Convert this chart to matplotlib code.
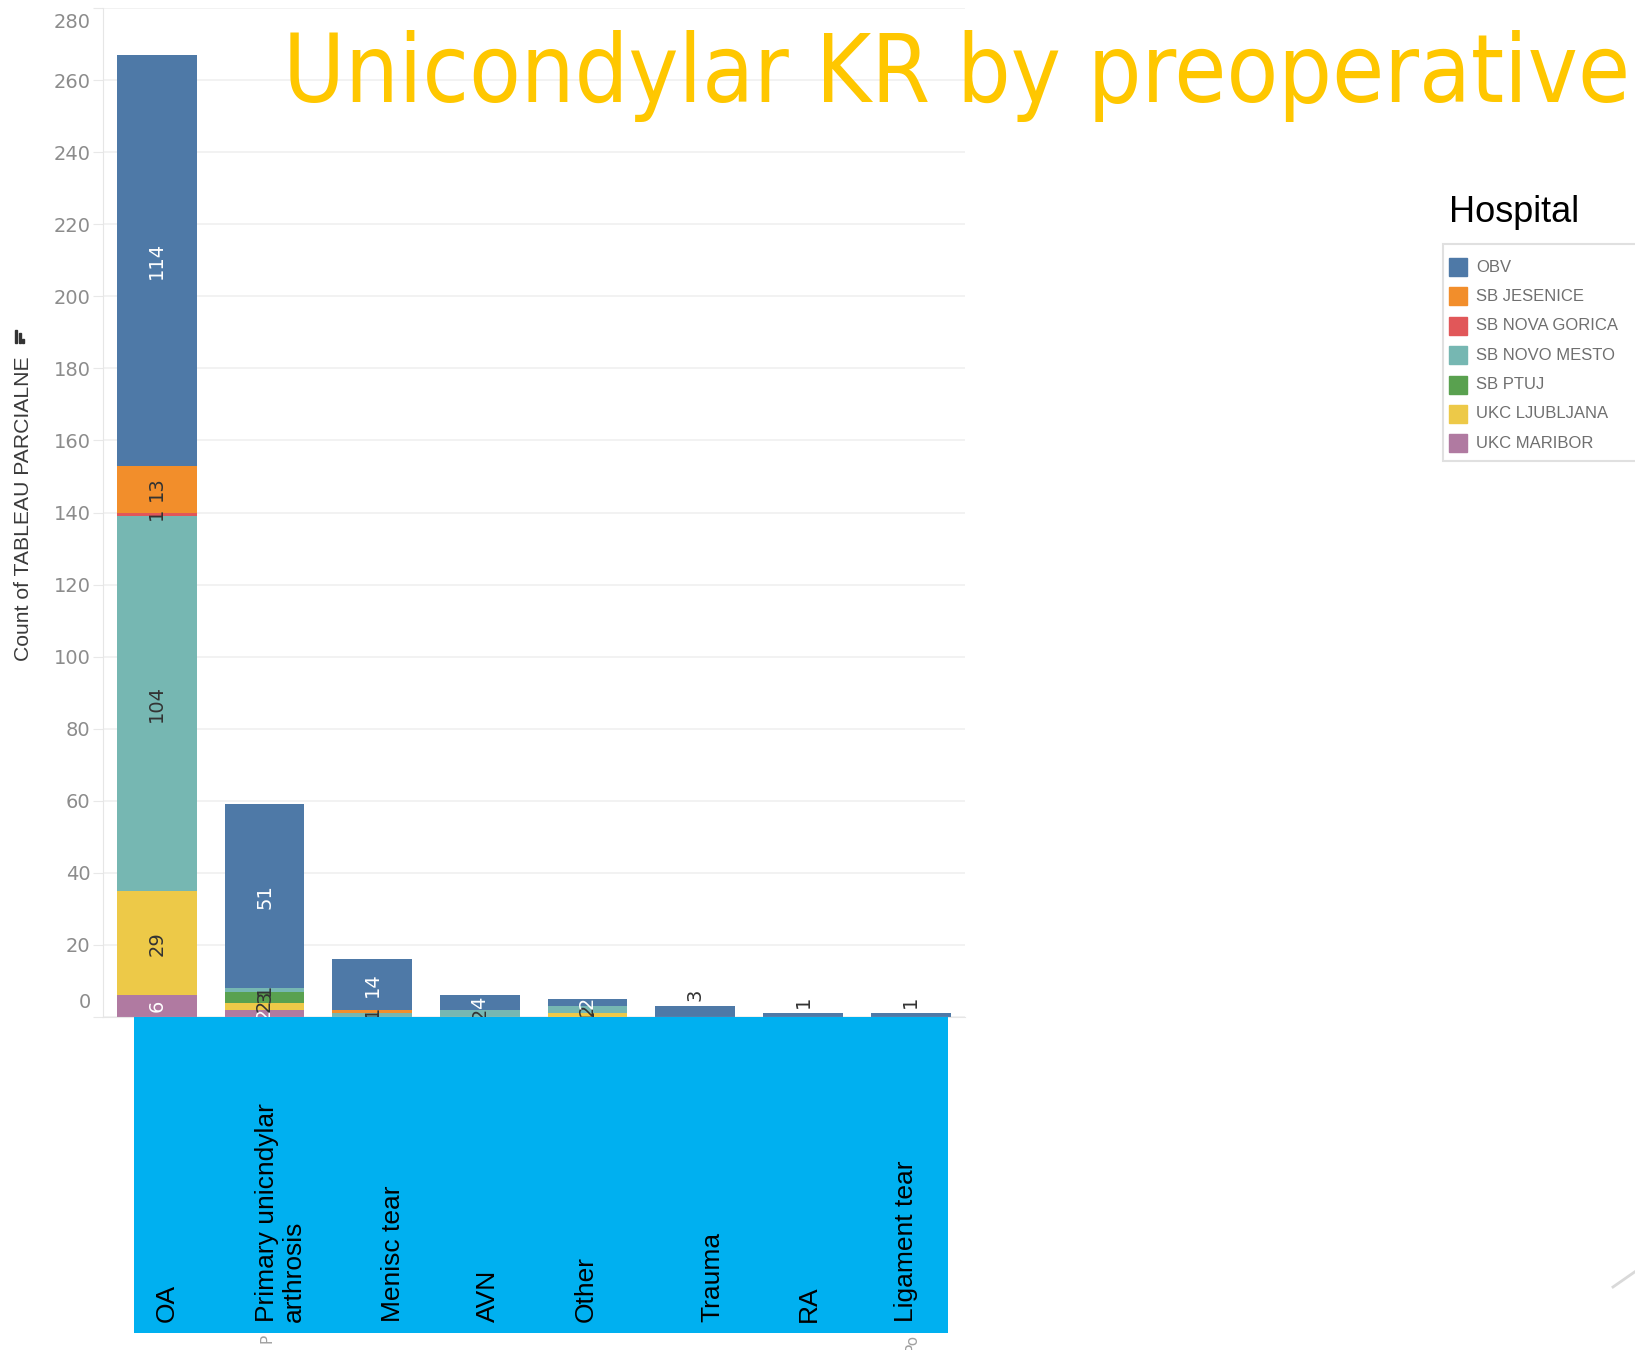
import matplotlib
matplotlib.use("Agg")
import matplotlib.pyplot as plt
from matplotlib.patches import Rectangle
from matplotlib.lines import Line2D
import matplotlib.transforms as mtransforms
from matplotlib import font_manager as fm
import numpy as np

# ---------------- data ----------------
categories = ["OA", "Primary unicondylar arthrosis", "Menisc tear", "AVN",
              "Other", "Trauma", "RA", "Ligament tear"]
category_labels = ["OA", "Primary unicndylar\narthrosis", "Menisc tear", "AVN",
                   "Other", "Trauma", "RA", "Ligament tear"]
hospitals = ["OBV", "SB JESENICE", "SB NOVA GORICA", "SB NOVO MESTO",
             "SB PTUJ", "UKC LJUBLJANA", "UKC MARIBOR"]
obv            = [114, 51, 14, 4, 2, 3, 1, 1]
sb_jesenice    = [13, 0, 1, 0, 0, 0, 0, 0]
sb_nova_gorica = [1, 0, 0, 0, 0, 0, 0, 0]
sb_novo_mesto  = [104, 1, 1, 2, 2, 0, 0, 0]
sb_ptuj        = [0, 3, 0, 0, 0, 0, 0, 0]
ukc_ljubljana  = [29, 2, 0, 0, 1, 0, 0, 0]
ukc_maribor    = [6, 2, 0, 0, 0, 0, 0, 0]
y_ticks = list(range(0, 281, 20))

series = {"OBV": obv, "SB JESENICE": sb_jesenice, "SB NOVA GORICA": sb_nova_gorica,
          "SB NOVO MESTO": sb_novo_mesto, "SB PTUJ": sb_ptuj,
          "UKC LJUBLJANA": ukc_ljubljana, "UKC MARIBOR": ukc_maribor}

# ---------------- style ----------------
colors = {"OBV": "#4e79a7", "SB JESENICE": "#f28e2b", "SB NOVA GORICA": "#e15759",
          "SB NOVO MESTO": "#76b7b2", "SB PTUJ": "#59a14f",
          "UKC LJUBLJANA": "#edc948", "UKC MARIBOR": "#b07aa1"}
label_colors = {"OBV": "white", "UKC MARIBOR": "white"}
stack_order = hospitals[::-1]
label_x_offsets = [0.088, 0.15, 0.193, 0.077, -0.02, 0.163, 0.057, -0.04]


def has_family(name):
    try:
        fm.findfont(fm.FontProperties(family=name), fallback_to_default=False)
        return True
    except Exception:
        return False


NARROW_OK = has_family("Liberation Sans Narrow")
NARROW = "Liberation Sans Narrow" if NARROW_OK else "Liberation Sans"
ARIAL = "Liberation Sans"

W, H = 1635, 1350
fig = plt.figure(figsize=(W / 100, H / 100), dpi=100)
fig.patch.set_facecolor("white")


def fx(x):
    return x / W


def fy(y):
    return 1 - y / H


ax = fig.add_axes([fx(103), fy(1017), fx(964.5) - fx(103), fy(8) - fy(1017)])
ax.set_xlim(-0.5, 7.5)
ax.set_ylim(0, 280)

x = np.arange(len(categories))
bottom = np.zeros(len(categories))
nonzero = [sum(1 for h in hospitals if series[h][i] > 0) for i in range(len(categories))]
for h in stack_order:
    vals = np.array(series[h], dtype=float)
    ax.bar(x, vals, bottom=bottom, width=0.74, color=colors[h], zorder=2,
           linewidth=0)
    for i, v in enumerate(vals):
        if v <= 0:
            continue
        if nonzero[i] == 1 and v < 4:
            ax.annotate(str(int(v)), (i, bottom[i] + v), xytext=(0, 4),
                        textcoords="offset points", rotation=90, ha="center",
                        va="bottom", fontsize=14, color="#333333", zorder=3)
        else:
            ax.text(i, bottom[i] + v / 2, str(int(v)), rotation=90, ha="center",
                    va="center", fontsize=14,
                    color=label_colors.get(h, "#333333"), zorder=3)
    bottom += vals

# axes styling
for s in ["top", "right"]:
    ax.spines[s].set_visible(False)
ax.spines["left"].set_color("#e6e6e6")
ax.spines["bottom"].set_color("#e6e6e6")
ax.set_yticks(y_ticks)
ax.set_yticklabels([str(t) for t in y_ticks])
ax.tick_params(axis="y", length=7, color="#e8e8e8", labelcolor="#8c8c8c",
               labelsize=14, pad=2)
ax.set_xticks(x)
ax.set_xticklabels([])
ax.tick_params(axis="x", length=0)
ax.yaxis.grid(True, color="#f0f0f0", linewidth=1.2, zorder=0)
ax.set_axisbelow(True)

# shift the first / last tick labels inward like the reference
labs = ax.get_yticklabels()
labs[0].set_transform(labs[0].get_transform() +
                      mtransforms.ScaledTranslation(0, 17 / 100, fig.dpi_scale_trans))
labs[-1].set_transform(labs[-1].get_transform() +
                       mtransforms.ScaledTranslation(0, -12 / 100, fig.dpi_scale_trans))

ax.set_ylabel("Count of TABLEAU PARCIALNE", family=[NARROW, "DejaVu Sans"],
              fontsize=17.5 if NARROW_OK else 15.2, color="#3a3a3a")
ax.yaxis.set_label_coords((33 - 103) / 861.5, (1017 - 509) / 1009)

# sort icon next to the axis title
for (x0, h0) in [(15, 13), (19, 10), (22, 4)]:
    fig.patches.append(Rectangle((fx(x0), fy(343)), 2.4 / W, h0 / H,
                                 transform=fig.transFigure, color="#333333",
                                 zorder=3))

# blue box with category labels
fig.patches.append(Rectangle((fx(133.5), fy(1332.6)), (948 - 133.5) / W,
                             (1332.6 - 1016.6) / H, transform=fig.transFigure,
                             facecolor="#00B0F0", edgecolor="none", zorder=5))
blend = mtransforms.blended_transform_factory(ax.transData, fig.transFigure)
for i, lab in enumerate(category_labels):
    fig.text(i + label_x_offsets[i], fy(1322), lab, transform=blend, rotation=90,
             ha="center", va="bottom", multialignment="left", fontsize=19,
             family=ARIAL, color="black", zorder=6, linespacing=1.15)

# peeking gray text under the box
fig.text(fx(267), fy(1334), "P", rotation=90, ha="center", va="top",
         fontsize=11, color="#a0a0a0")
fig.text(fx(912), fy(1334), "Po", rotation=90, ha="center", va="top",
         fontsize=11, color="#a0a0a0")

# title
title_font = "DejaVu Sans"
stretch = "normal"
try:
    p = fm.findfont(fm.FontProperties(family="DejaVu Sans", stretch="condensed"))
    if "Condensed" in p:
        stretch = "condensed"
except Exception:
    pass
title = fig.text(fx(283), fy(102), "Unicondylar KR by preoperative", fontsize=64,
                 color="#FFC700", ha="left", va="baseline", family=title_font,
                 fontstretch=stretch, zorder=6)
fig.canvas.draw()
w = title.get_window_extent(renderer=fig.canvas.get_renderer()).width
title.set_fontsize(64 * 1348 / w)

# legend
fig.text(fx(1449), fy(213), "Hospital", fontsize=26, family=ARIAL, color="black",
         ha="left", va="center")
fig.patches.append(Rectangle((fx(1443), fy(461)), (1700 - 1443) / W, (461 - 244) / H,
                             transform=fig.transFigure, facecolor="white",
                             edgecolor="#e0e0e0", linewidth=1.5, zorder=1))
row_y = 267
for h in hospitals:
    fig.patches.append(Rectangle((fx(1449), fy(row_y + 9)), 18 / W, 18 / H,
                                 transform=fig.transFigure, color=colors[h], zorder=2))
    fig.text(fx(1476), fy(row_y), h, fontsize=13 if NARROW_OK else 12,
             family=[NARROW, "DejaVu Sans"],
             color="#6f6f6f", ha="left", va="center", zorder=2)
    row_y += 29.4

# decorative line bottom-right
fig.lines.append(Line2D([fx(1613), fx(1636)], [fy(1287), fy(1271)],
                        transform=fig.transFigure, color="#d9d9d9", linewidth=2))

fig.savefig("out.png", dpi=100)
